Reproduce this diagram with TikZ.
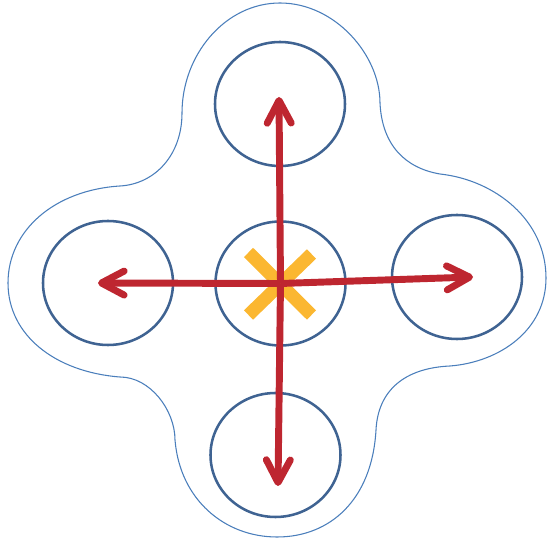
\documentclass[tikz,border=0pt]{standalone}
\usetikzlibrary{arrows.meta,shapes.geometric,calc}
\definecolor{rimblue}{HTML}{3F6392}
\definecolor{hullblue}{HTML}{4A7EBB}
\definecolor{armred}{HTML}{BE2630}
\definecolor{hubgold}{HTML}{FBB731}
\begin{document}
\begin{tikzpicture}[
  x=0.75pt, y=-0.75pt,
  rotor/.style={draw=rimblue, line width=1.9pt, ellipse, inner sep=0pt,
                minimum width=97.5pt, minimum height=93pt},
  arr/.style={draw=armred, line width=5.2pt,
              -{Straight Barb[round, length=17pt, width=18pt]}},
  hull/.style={draw=hullblue, line width=0.8pt},
  cross/.style={draw=hubgold, line width=9.8pt}
]
\useasboundingbox (0,0) rectangle (547,545);

% outer frame
\draw[hull] (182,113) .. controls (182,55) and (225,3) .. (280,3)
  .. controls (335,3) and (380,55) .. (380,103)
  .. controls (382,145) and (405,168) .. (440,174)
  .. controls (495,180) and (546,220) .. (546,278)
  .. controls (546,330) and (500,362) .. (450,366)
  .. controls (405,368) and (378,390) .. (376,430)
  .. controls (372,500) and (330,537) .. (277,537)
  .. controls (225,537) and (180,500) .. (175,440)
  .. controls (175,410) and (150,377) .. (120,377)
  .. controls (55,372) and (8,335) .. (8,283)
  .. controls (8,230) and (55,190) .. (120,186)
  .. controls (155,184) and (182,155) .. cycle;

% rotors
\node[rotor] (hub) at (280.5,283.5) {};
\node[rotor] (up) at (280,104) {};
\node[rotor] (lt) at (108,283) {};
\node[rotor] (rt) at (457,277) {};
\node[rotor] (dn) at (275.5,455) {};

% body mark
\draw[cross] ($(hub)+(-32,-31)$) -- ($(hub)+(31,31.5)$);
\draw[cross] ($(hub)+(31,-29.5)$) -- ($(hub)+(-32,31.5)$);

% thrust directions
\coordinate (uptip) at (279,97);
\coordinate (lttip) at (98,283);
\coordinate (rttip) at (473,277);
\coordinate (dntip) at (278,486);
\draw[arr] (hub.center) -- (uptip);
\draw[arr] (hub.center) -- (dntip);
\draw[arr] (hub.center) -- (lttip);
\draw[arr] (hub.center) -- (rttip);
\end{tikzpicture}
\end{document}
